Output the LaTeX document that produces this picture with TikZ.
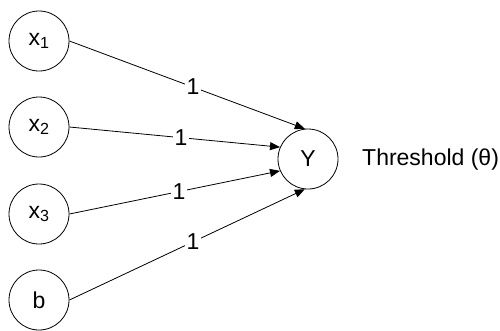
\documentclass[tikz,border=0pt]{standalone}
\usepackage{fontspec}
\setmainfont{Liberation Sans}
\usetikzlibrary{arrows.meta}
\begin{document}
\begin{tikzpicture}[x=1pt,y=-1pt,
  neuron/.style={draw,circle,line width=0.8pt,minimum size=60pt,inner sep=0pt,
    font=\fontsize{23}{27}\selectfont},
  link/.style={line width=0.8pt,-{Triangle[length=10pt,width=8pt]}},
  weight/.style={fill=white,inner sep=1.5pt,font=\fontsize{23}{27}\selectfont},
  note/.style={font=\fontsize{23}{27}\selectfont,anchor=west,inner sep=0pt}]
  \useasboundingbox (0,0) rectangle (500,330);
  % input units
  \node[neuron] (x1) at (39,41)  {x\textsubscript{1}};
  \node[neuron] (x2) at (39,127) {x\textsubscript{2}};
  \node[neuron] (x3) at (39,214) {x\textsubscript{3}};
  \node[neuron] (b)  at (39,300) {b};
  % output unit
  \node[neuron] (y)  at (308,159) {Y};
  \node[note] (th) at (362,160) {Threshold (θ)};
  % weighted connections
  \draw[link] (x1.east) -- node[weight,pos=0.525] {1} (y.96);
  \draw[link] (x2.east) -- node[weight,pos=0.53]  {1} (y.157);
  \draw[link] (x3.east) -- node[weight,pos=0.52]  {1} (y.203);
  \draw[link] (b.east)  -- node[weight,pos=0.525] {1} (y.264);
\end{tikzpicture}
\end{document}
